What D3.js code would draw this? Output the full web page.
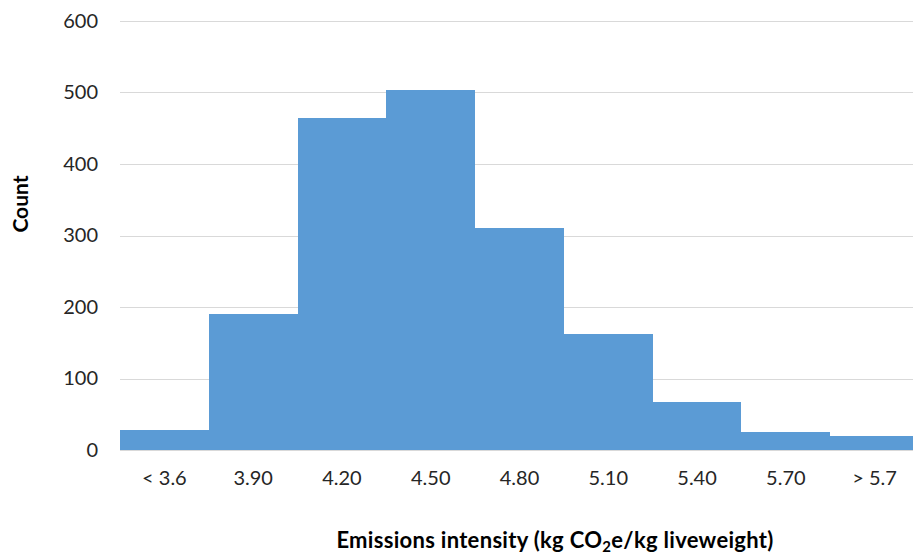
<!DOCTYPE html>
<html>
<head>
<meta charset="utf-8">
<script src="https://cdn.jsdelivr.net/npm/d3@7"></script>
<style>
  html, body { margin: 0; padding: 0; background: #fff; }
  svg { display: block; }
  text { font-family: Lato, "Open Sans", sans-serif; }
</style>
</head>
<body>
<svg id="chart" width="913" height="554"></svg>
<script>
const categories = ["< 3.6", "3.90", "4.20", "4.50", "4.80", "5.10", "5.40", "5.70", "> 5.7"];
const counts = [28, 190, 464, 503, 310, 162, 67, 25, 20];
const yTicks = [0, 100, 200, 300, 400, 500, 600];

const svg = d3.select("#chart");
const margin = { left: 120, right: -6, top: 21, bottom: 104 };
const W = 913, H = 554;
const x = d3.scaleBand().domain(categories).range([margin.left, W - margin.right]).padding(0);
const y = d3.scaleLinear().domain([0, 600]).range([H - margin.bottom, margin.top]);

// gridlines
svg.append("g").selectAll("line").data(yTicks.filter(d => d > 0)).join("line")
  .attr("x1", margin.left).attr("x2", W)
  .attr("y1", d => Math.round(y(d)) + 0.5).attr("y2", d => Math.round(y(d)) + 0.5)
  .attr("stroke", "#d9d9d9").attr("stroke-width", 1);

// bars
svg.append("g").selectAll("rect").data(categories).join("rect")
  .attr("x", d => Math.round(x(d)))
  .attr("width", d => Math.round(x(d) + x.bandwidth()) - Math.round(x(d)))
  .attr("y", (d, i) => Math.round(y(counts[i])))
  .attr("height", (d, i) => Math.round(y(0)) - Math.round(y(counts[i])))
  .attr("fill", "#5b9bd5")
  .attr("shape-rendering", "crispEdges");

// baseline
svg.append("line").attr("x1", margin.left).attr("x2", W)
  .attr("y1", Math.round(y(0)) + 0.5).attr("y2", Math.round(y(0)) + 0.5).attr("stroke", "#d9d9d9");

// y axis labels
const yAxis = d3.axisLeft(y).tickValues(yTicks).tickSize(0).tickPadding(0);
const gy = svg.append("g").attr("transform", `translate(98,0)`).call(yAxis);
gy.select(".domain").remove();
gy.selectAll("text").attr("font-size", 20).attr("fill", "#262626")
  .style("font-family", "Lato, sans-serif");

// x axis labels
const xAxis = d3.axisBottom(x).tickSize(0).tickPadding(0);
const gx = svg.append("g").attr("transform", `translate(0,${y(0) + 21})`).call(xAxis);
gx.select(".domain").remove();
gx.selectAll("text").attr("font-size", 20).attr("fill", "#262626")
  .style("font-family", "Lato, sans-serif");

// y title
svg.append("text")
  .attr("transform", "translate(28,204) rotate(-90)")
  .attr("text-anchor", "middle")
  .attr("font-size", 21).attr("font-weight", "bold").attr("fill", "#000")
  .text("Count");

// x title
const xt = svg.append("text")
  .attr("x", 555).attr("y", 548)
  .attr("text-anchor", "middle")
  .attr("letter-spacing", 0.3)
  .attr("font-size", 22).attr("font-weight", "bold").attr("fill", "#000");
xt.append("tspan").text("Emissions  intensity (kg CO");
xt.append("tspan").attr("font-size", 15).attr("dy", 4).text("2");
xt.append("tspan").attr("dy", -4).text("e/kg liveweight)");
</script>
</body>
</html>
